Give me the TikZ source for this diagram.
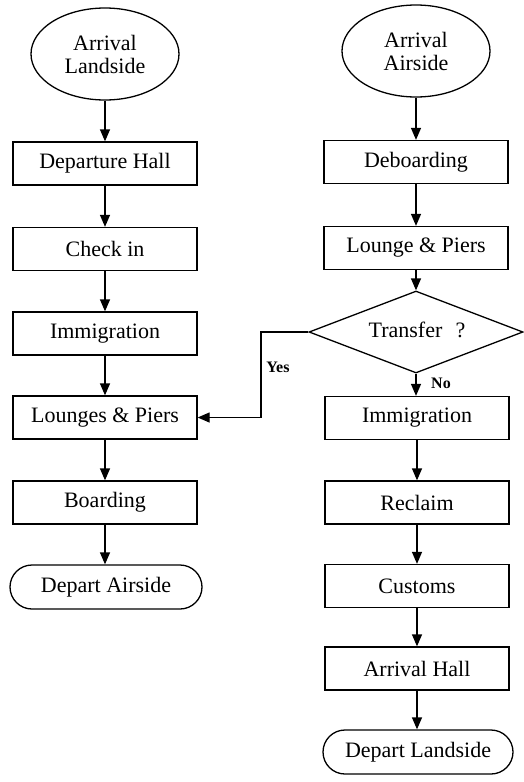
\documentclass[tikz,border=0pt]{standalone}
\usepackage{fontspec}
\setmainfont{Liberation Serif}
\usetikzlibrary{shapes.geometric,shapes.misc,arrows.meta}
\begin{document}
\begin{tikzpicture}[x=1pt,y=-1pt,
  every node/.style={font=\fontsize{22}{25}\selectfont, inner sep=0pt},
  box/.style={draw, line width=1.3pt, minimum width=184pt, minimum height=43pt},
  oval/.style={draw, ellipse, line width=1.3pt, minimum width=148pt, minimum height=92pt, align=center},
  term/.style={draw, rounded rectangle, line width=1.3pt, minimum width=192pt, minimum height=44pt},
  dec/.style={draw, diamond, line width=1.3pt, minimum width=214pt, minimum height=82pt},
  lbl/.style={font=\fontsize{16}{18}\selectfont\bfseries},
  arr/.style={line width=1.3pt, -{Triangle[length=12pt,width=10pt]}}]
\useasboundingbox (0,0) rectangle (523,782);
% left column
\node[oval] (al) at (105,54) {Arrival\\[-2pt]Landside};
\node[box] (dh) at (105,163.5) {Departure Hall};
\node[box] (ci) at (105,249) {Check in};
\node[box] (im1) at (105,333.5) {Immigration};
\node[box] (lp) at (105,417.5) {Lounges \& Piers};
\node[box] (bo) at (105,502.5) {Boarding};
\node[term] (da) at (106,587) {Depart Airside};
% right column
\node[oval] (aa) at (416,51) {Arrival\\[-2pt]Airside};
\node[box] (db) at (416,162) {Deboarding};
\node[box] (lg) at (416,248) {Lounge \& Piers};
\node[dec] (tr) at (416,332) {};
\node at (417,330) {Transfer\hspace{0.6em}?};
\node[box] (im2) at (417,418) {Immigration};
\node[box] (rc) at (417,502.5) {Reclaim};
\node[box] (cu) at (417,586) {Customs};
\node[box] (ah) at (417,668.5) {Arrival Hall};
\node[term, minimum width=190pt] (dl) at (418,752) {Depart Landside};
% connectors
\draw[arr] (al) -- (dh);
\draw[arr] (dh) -- (ci);
\draw[arr] (ci) -- (im1);
\draw[arr] (im1) -- (lp);
\draw[arr] (lp) -- (bo);
\draw[arr] (bo) -- (da.north -| bo);
\draw[arr] (aa) -- (db);
\draw[arr] (db) -- (lg);
\draw[arr] (lg.south) -- (tr.north);
\draw[arr] (tr.south) -- (im2.north -| tr.south);
\draw[arr] (im2) -- (rc);
\draw[arr] (rc) -- (cu);
\draw[arr] (cu) -- (ah);
\draw[arr] (ah.south) -- (dl.north -| ah.south);
\coordinate (yc) at (261,332);
\draw[arr] (tr.west) -- (yc) |- (lp.east);
\node[lbl] (yes) at (278,367) {Yes};
\node[lbl] (no) at (441,383) {No};
\end{tikzpicture}
\end{document}
